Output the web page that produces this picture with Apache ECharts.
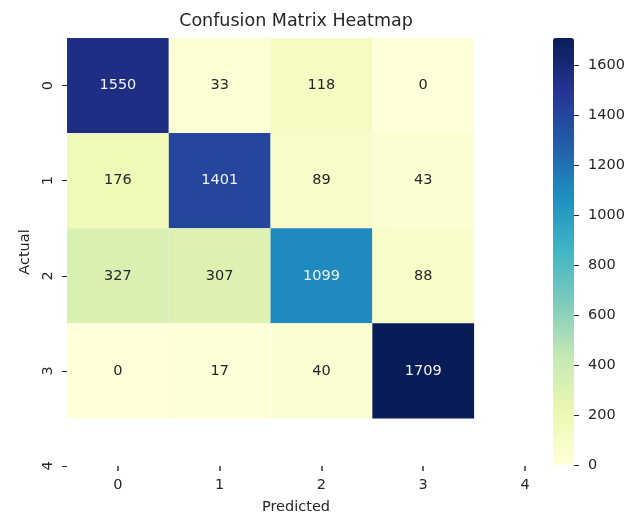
<!DOCTYPE html>
<html>
<head>
<meta charset="utf-8">
<script src="https://cdn.jsdelivr.net/npm/echarts@6/dist/echarts.min.js"></script>
<style>
  html, body { margin: 0; padding: 0; background: #fff; }
  #chart { width: 639px; height: 515px; }
</style>
</head>
<body>
<div id="chart"></div>
<script>
// Class labels shown on both axes (the axis runs one step past the last class)
const tickLabels = ['0', '1', '2', '3', '4'];
// Confusion matrix rows: actual class, columns: predicted class
const actual0 = [1550, 33, 118, 0];
const actual1 = [176, 1401, 89, 43];
const actual2 = [327, 307, 1099, 88];
const actual3 = [0, 17, 40, 1709];
// Colour bar ticks
const colorbarTicks = [0, 200, 400, 600, 800, 1000, 1200, 1400, 1600];

const rows = [actual0, actual1, actual2, actual3];
const cells = [];
rows.forEach((row, r) => row.forEach((v, c) => cells.push([c, r, v])));
const vmax = Math.max(...cells.map(d => d[2]));

// YlGnBu colour ramp
const ylgnbu = ['#ffffd9', '#edf8b1', '#c7e9b4', '#7fcdbb', '#41b6c4',
                '#1d91c0', '#225ea8', '#253494', '#081d58'];

const FONT = '"DejaVu Sans", sans-serif';
const TEXT = '#262626';
// tick positions sit at cell centres (fresh array for every axis option)
const centres = () => tickLabels.map((_, i) => i + 0.5);

const chart = echarts.init(document.getElementById('chart'), null, { renderer: 'canvas' });

chart.setOption({
  animation: false,
  backgroundColor: '#fff',
  title: {
    text: 'Confusion Matrix Heatmap',
    left: 296,
    top: 12,
    textAlign: 'center',
    padding: 0,
    textStyle: { fontFamily: FONT, fontSize: 17.5, fontWeight: 'normal', color: TEXT }
  },
  grid: [
    { left: 67, top: 38, width: 458, height: 428, outerBoundsMode: 'none', containLabel: false },
    { left: 553, top: 38, width: 21, height: 427, outerBoundsMode: 'none', containLabel: false }
  ],
  xAxis: [
    {
      type: 'value', gridIndex: 0, min: 0, max: 4.5, position: 'bottom',
      name: 'Predicted', nameLocation: 'middle', nameGap: 34,
      nameTextStyle: { fontFamily: FONT, fontSize: 14.5, color: TEXT },
      axisLine: { show: false, onZero: false },
      splitLine: { show: false },
      axisTick: { show: true, inside: false, length: 5, customValues: centres(), lineStyle: { color: '#333', width: 1.5 } },
      axisLabel: {
        customValues: centres(), margin: 12,
        fontFamily: FONT, fontSize: 14.5, color: TEXT,
        formatter: v => tickLabels[Math.round(v - 0.5)]
      }
    },
    { type: 'value', gridIndex: 1, min: 0, max: 1, show: false }
  ],
  yAxis: [
    {
      type: 'value', gridIndex: 0, min: 0, max: 4.5, inverse: true, position: 'left',
      name: 'Actual', nameLocation: 'middle', nameGap: 30,
      nameTextStyle: { fontFamily: FONT, fontSize: 14.5, color: TEXT },
      axisLine: { show: false, onZero: false },
      splitLine: { show: false },
      axisTick: { show: true, inside: false, length: 5, customValues: centres(), lineStyle: { color: TEXT, width: 1 } },
      axisLabel: {
        customValues: centres(), margin: 11, rotate: 90,
        fontFamily: FONT, fontSize: 14.5, color: TEXT,
        formatter: v => tickLabels[Math.round(v - 0.5)]
      }
    },
    {
      type: 'value', gridIndex: 1, min: 0, max: vmax, position: 'right',
      axisLine: { show: false, onZero: false },
      splitLine: { show: false },
      axisTick: { show: true, inside: false, length: 5, customValues: colorbarTicks.slice(), lineStyle: { color: TEXT, width: 1 } },
      axisLabel: {
        customValues: colorbarTicks.slice(), margin: 14,
        fontFamily: FONT, fontSize: 14.5, color: TEXT,
        formatter: v => String(v)
      }
    }
  ],
  visualMap: {
    type: 'continuous',
    min: 0, max: vmax,
    dimension: 2,
    seriesIndex: 0,
    orient: 'vertical',
    left: 553, top: 38,
    itemWidth: 21, itemHeight: 427,
    padding: 0,
    calculable: false,
    hoverLink: false,
    inRange: { color: ylgnbu }
  },
  series: [{
    type: 'custom',
    xAxisIndex: 0, yAxisIndex: 0,
    data: cells,
    encode: { x: 0, y: 1 },
    renderItem: (params, api) => {
      const c = api.value(0), r = api.value(1), v = api.value(2);
      const p0 = api.coord([c, r]);
      const p1 = api.coord([c + 1, r + 1]);
      const x = Math.min(p0[0], p1[0]), y = Math.min(p0[1], p1[1]);
      const w = Math.abs(p1[0] - p0[0]), h = Math.abs(p1[1] - p0[1]);
      const dark = v / vmax > 0.55;
      return {
        type: 'group',
        children: [
          { type: 'rect', shape: { x, y, width: w, height: h },
            style: { fill: api.visual('color') } },
          { type: 'text', z2: 10,
            style: {
              text: String(v), x: x + w / 2, y: y + h / 2,
              align: 'center', verticalAlign: 'middle',
              font: '14.5px ' + FONT,
              fill: dark ? '#f2f2f2' : TEXT
            } }
        ]
      };
    }
  }]
});
</script>
</body>
</html>
